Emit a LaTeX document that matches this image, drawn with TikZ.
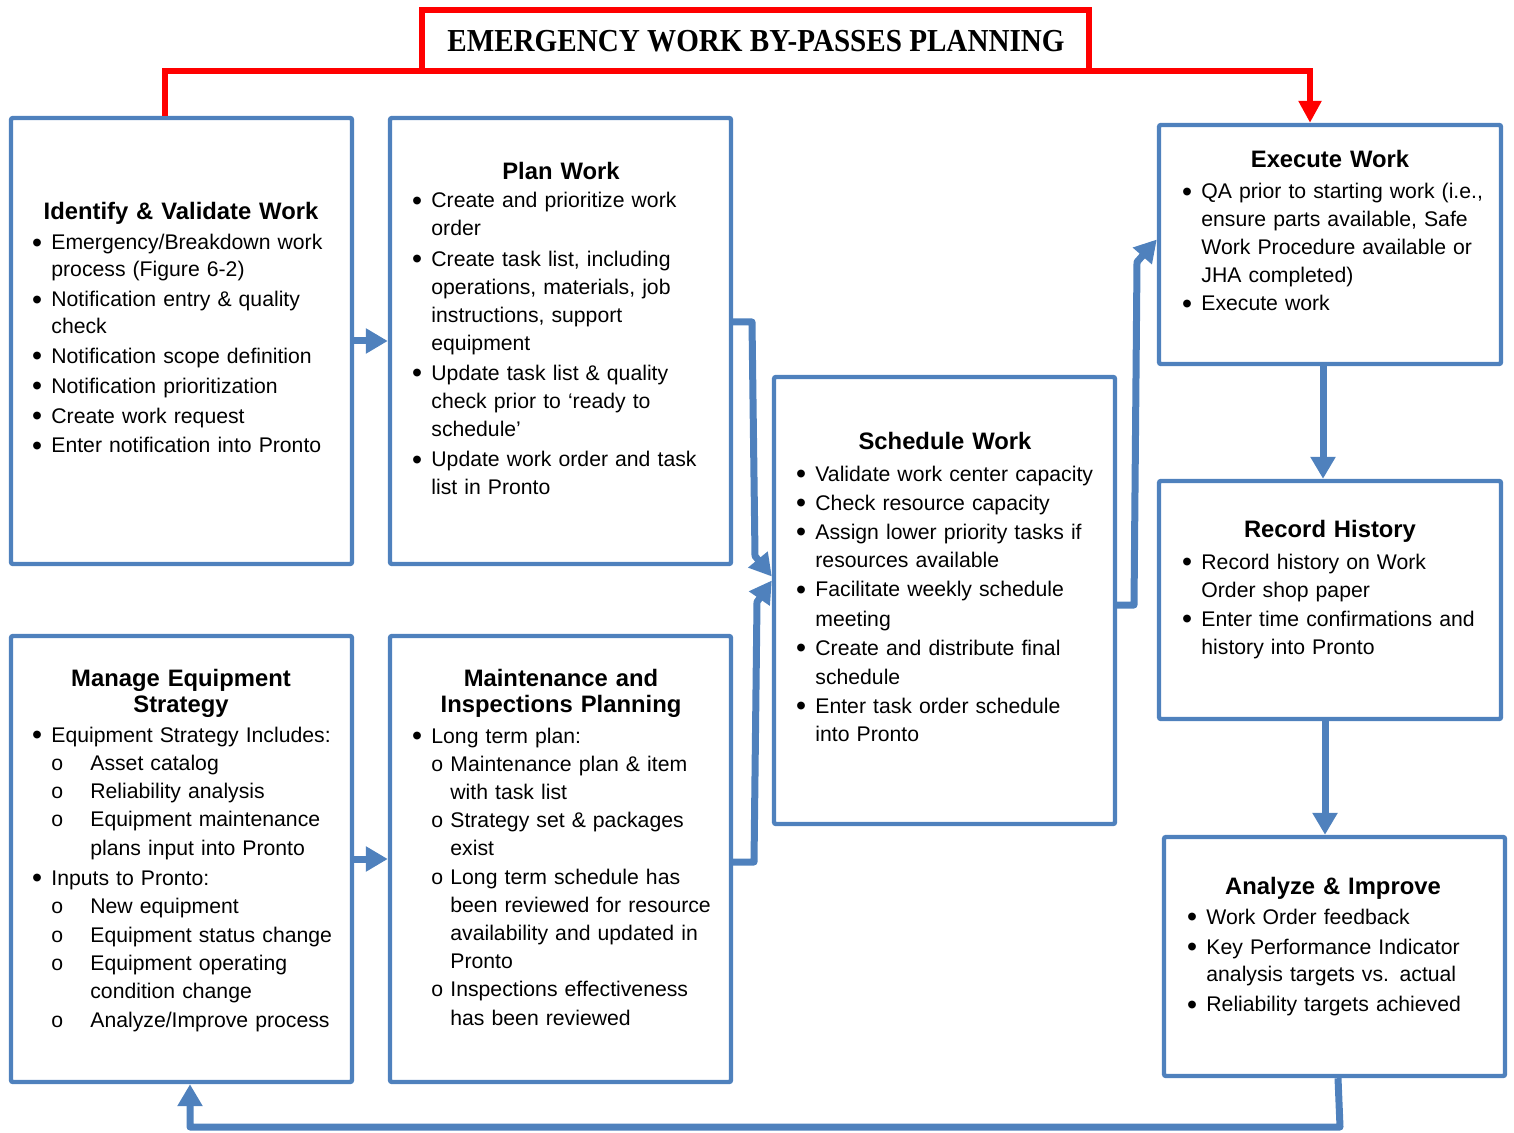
\documentclass[tikz,border=0pt]{standalone}
\usepackage{fontspec}
\setmainfont{Liberation Sans}
\newfontfamily\bannerfont{Liberation Serif}
\usepackage{graphicx}
\usetikzlibrary{arrows.meta,calc,fit}

\definecolor{boxblue}{HTML}{4F81BD}
\definecolor{flowred}{HTML}{FF0000}

% list helpers: bullet hanging left of the text, second-level "o" markers
\newcommand\bul{\noindent\llap{\raisebox{-1.2pt}{\scalebox{1.35}{\textbullet}}\hspace{4.6pt}}}
\newcommand\suba{\noindent\makebox[19.5pt][l]{o}}
\newcommand\subb{\noindent\makebox[9.5pt][l]{o}}
\newcommand\itmsep[1]{\par\vspace{#1}}

\begin{document}
\begin{tikzpicture}[x=0.5pt,y=-0.5pt,
  box/.style={draw=boxblue, line width=2.2pt, inner sep=0pt, rounded corners=1pt},
  banner/.style={draw=flowred, line width=2.6pt, inner sep=0pt, outer sep=0pt},
  head/.style={font=\bfseries\fontsize{11.9}{13}\selectfont, anchor=base, inner sep=0pt, text width=170pt, align=center},
  lst/.style={anchor=base west, inner sep=0pt, text width=180pt, align=left},
  conn/.style={draw=boxblue, line width=3.5pt, line join=round, -{Triangle[width=12pt,length=11pt]}},
  redline/.style={draw=flowred, line width=2.8pt},
]
\useasboundingbox (0,0) rectangle (1514,1133);

% ---------- banner ----------
\node[banner, fit={(422,10) (1089,71)}] (T) {};
\node[anchor=base, inner sep=0pt] (Tt) at (756,52)
  {\bannerfont\bfseries\fontsize{16}{18}\selectfont\scalebox{0.91}[1]{EMERGENCY WORK BY-PASSES PLANNING}};

% ---------- process boxes ----------
\node[box, fit={(11,118) (352,564)}] (B1) {};
\node[box, fit={(390,118) (731,564)}] (B2) {};
\node[box, fit={(11,636) (352,1082)}] (B3) {};
\node[box, fit={(390,636) (731,1082)}] (B4) {};
\node[box, fit={(774,377) (1115,824)}] (B5) {};
\node[box, fit={(1159,125) (1501,364)}] (B6) {};
\node[box, fit={(1159,481) (1501,719)}] (B7) {};
\node[box, fit={(1164,837) (1505,1076)}] (B8) {};

% ---------- Identify & Validate Work ----------
\node[head] (B1h) at (181,220) {Identify \& Validate Work};
\node[lst, font=\fontsize{10.6}{13.5}\selectfont] (B1l) at (51,250) {%
\bul Emergency/Breakdown work\\process (Figure 6-2)\itmsep{1.4pt}
\bul Notification entry \& quality\\check\itmsep{1.4pt}
\bul Notification scope definition\itmsep{1.4pt}
\bul Notification prioritization\itmsep{1.4pt}
\bul Create work request\itmsep{1.4pt}
\bul Enter notification into Pronto};

% ---------- Plan Work ----------
\node[head] (B2h) at (561,180) {Plan Work};
\node[lst, font=\fontsize{10.6}{14}\selectfont] (B2l) at (431,208) {%
\bul Create and prioritize work\\order\itmsep{1.15pt}
\bul Create task list, including\\operations, materials, job\\instructions, support\\equipment\itmsep{1.15pt}
\bul Update task list \& quality\\check prior to ‘ready to\\schedule’\itmsep{1.15pt}
\bul Update work order and task\\list in Pronto};

% ---------- Manage Equipment Strategy ----------
\node[head] (B3h) at (181,686) {Manage Equipment\\Strategy};
\node[lst, font=\fontsize{10.6}{14.15}\selectfont] (B3l) at (51,742) {%
\bul Equipment Strategy Includes:\par
\suba Asset catalog\par
\suba Reliability analysis\par
\suba Equipment maintenance\\\hspace*{19.5pt}plans input into Pronto\itmsep{1pt}
\bul Inputs to Pronto:\par
\suba New equipment\par
\suba Equipment status change\par
\suba Equipment operating\\\hspace*{19.5pt}condition change\par
\suba Analyze/Improve process};

% ---------- Maintenance and Inspections Planning ----------
\node[head] (B4h) at (561,686) {Maintenance and\\Inspections Planning};
\node[lst, font=\fontsize{10.6}{14.1}\selectfont] (B4l) at (431,743) {%
\bul Long term plan:\par
\subb Maintenance plan \& item\\\hspace*{9.5pt}with task list\par
\subb Strategy set \& packages\\\hspace*{9.5pt}exist\par
\subb Long term schedule has\\\hspace*{9.5pt}been reviewed for resource\\\hspace*{9.5pt}availability and updated in\\\hspace*{9.5pt}Pronto\par
\subb Inspections effectiveness\\\hspace*{9.5pt}has been reviewed};

% ---------- Schedule Work ----------
\node[head] (B5h) at (945,450) {Schedule Work};
\node[lst, font=\fontsize{10.6}{14.5}\selectfont] (B5l) at (815,481) {%
\bul Validate work center capacity\par
\bul Check resource capacity\par
\bul Assign lower priority tasks if\\resources available\par
\bul Facilitate weekly schedule\\meeting\par
\bul Create and distribute final\\schedule\par
\bul Enter task order schedule\\into Pronto};

% ---------- Execute Work ----------
\node[head] (B6h) at (1330,168) {Execute Work};
\node[lst, font=\fontsize{10.6}{14}\selectfont] (B6l) at (1201,199) {%
\bul QA prior to starting work (i.e.,\\ensure parts available, Safe\\Work Procedure available or\\JHA completed)\par
\bul Execute work};

% ---------- Record History ----------
\node[head] (B7h) at (1330,538) {Record History};
\node[lst, font=\fontsize{10.6}{14.3}\selectfont] (B7l) at (1201,569) {%
\bul Record history on Work\\Order shop paper\par
\bul Enter time confirmations and\\history into Pronto};

% ---------- Analyze & Improve ----------
\node[head] (B8h) at (1333,894) {Analyze \& Improve};
\node[lst, font=\fontsize{10.6}{13.5}\selectfont] (B8l) at (1206,924) {%
\bul Work Order feedback\itmsep{1.7pt}
\bul Key Performance Indicator\\analysis targets vs. actual\itmsep{1.7pt}
\bul Reliability targets achieved};

% ---------- emergency by-pass (red) ----------
\draw[redline] ($(B1.north)+(-16.5,0)$) |- (T.south west);
\draw[redline, -{Triangle[width=11pt,length=11pt]}] (T.south east) -| ($(B6.north)+(-20,0)$);

% ---------- flow connectors (blue) ----------
\draw[conn] (B1.east) -- (B2.west);
\draw[conn] (B3.east) -- (B4.west);

\coordinate (k1) at (752,322);
\coordinate (k2) at (755,556);
\draw[conn] (B2.east |- k1) -- (k1) -- (k2) -- ($(B5.west)+(0,-24)$);

\coordinate (k3) at (754,862);
\coordinate (k4) at (757,602);
\draw[conn] (B4.east |- k3) -- (k3) -- (k4) -- ($(B5.west)+(0,-20)$);

\coordinate (k5) at (1134,605);
\coordinate (k6) at (1137,262);
\draw[conn] (B5.east |- k5) -- (k5) -- (k6) -- ($(B6.west)+(0,-5)$);

\draw[conn] ($(B6.south)+(-7,0)$) -- ($(B7.north)+(-7,0)$);
\draw[conn] ($(B7.south)+(-5,0)$) -- ($(B8.north)+(-9.5,0)$);

\coordinate (k7) at (1340,1127);
\coordinate (k8) at (190,1127);
\draw[conn] ($(B8.south)+(3.5,0)$) -- (k7) -- (k8) -- ($(B3.south)+(8.5,0)$);
\end{tikzpicture}
\end{document}
